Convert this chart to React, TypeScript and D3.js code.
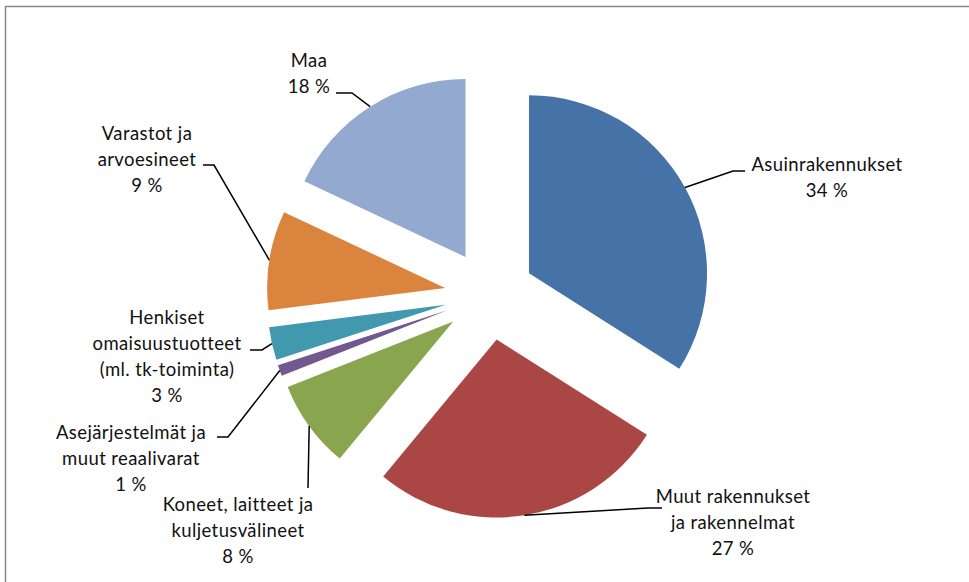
import React from "react";
import * as d3 from "d3";

const categories = [
  "Asuinrakennukset",
  "Muut rakennukset ja rakennelmat",
  "Koneet, laitteet ja kuljetusvälineet",
  "Asejärjestelmät ja muut reaalivarat",
  "Henkiset omaisuustuotteet (ml. tk-toiminta)",
  "Varastot ja arvoesineet",
  "Maa",
];
const values = [34, 27, 8, 1, 3, 9, 18];
const labelLines = [
  ["Asuinrakennukset", "34 %"],
  ["Muut rakennukset", "ja rakennelmat", "27 %"],
  ["Koneet, laitteet ja", "kuljetusvälineet", "8 %"],
  ["Asejärjestelmät ja", "muut reaalivarat", "1 %"],
  ["Henkiset", "omaisuustuotteet", "(ml. tk-toiminta)", "3 %"],
  ["Varastot ja", "arvoesineet", "9 %"],
  ["Maa", "18 %"],
];

const colors = ["#4572A7", "#AA4643", "#89A54E", "#71588F", "#4198AF", "#DB843D", "#93A9CF"];

// label layout (positions kept separate from data)
const labelLayout = [
  { cx: 827, y0: 164, leader: [[745, 171], [733, 171]] },
  { cx: 733, y0: 496, leader: [[662, 508], [648, 508]] },
  { cx: 238, y0: 504, leader: [[308, 488]] },
  { cx: 131, y0: 432, leader: [[217, 437], [228, 437]] },
  { cx: 167, y0: 317, leader: [[250, 350], [262, 350]] },
  { cx: 147, y0: 133, leader: [[203, 165], [214, 165]] },
  { cx: 309, y0: 60, leader: [[336, 93], [352, 93]] },
];

const W = 969;
const H = 582;
const CX = 489.6;
const CY = 295;
const R = 178;
const EXPLODE = 45;
const LINE_H = 26;

export default function App() {
  const pie = d3.pie<number>().sort(null).value((d) => d)(values);
  const arc = d3.arc<d3.PieArcDatum<number>>().innerRadius(0).outerRadius(R);

  return (
    <svg
      width={W}
      height={H}
      style={{ position: "absolute", left: 0, top: 0, display: "block", background: "#fff" }}
      fontFamily="Lato, 'Open Sans', sans-serif"
    >
      <rect x={5.5} y={6.5} width={1000} height={700} fill="#fff" stroke="#8a8a8a" strokeWidth={1.5} />
      {pie.map((d, i) => {
        const mid = (d.startAngle + d.endAngle) / 2;
        const ox = CX + EXPLODE * Math.sin(mid);
        const oy = CY - EXPLODE * Math.cos(mid);
        return (
          <path key={categories[i]} d={arc(d) || ""} transform={`translate(${ox},${oy})`} fill={colors[i]} />
        );
      })}
      {pie.map((d, i) => {
        const mid = (d.startAngle + d.endAngle) / 2;
        const ox = CX + EXPLODE * Math.sin(mid);
        const oy = CY - EXPLODE * Math.cos(mid);
        const ax = ox + R * Math.sin(mid);
        const ay = oy - R * Math.cos(mid);
        const lay = labelLayout[i];
        const pts: [number, number][] = [...(lay.leader as [number, number][]), [ax, ay]];
        const line = d3.line()(pts) || "";
        return <path key={"l" + i} d={line} fill="none" stroke="#000" strokeWidth={1.5} />;
      })}
      {labelLines.map((lines, i) => {
        const lay = labelLayout[i];
        return (
          <text key={"t" + i} textAnchor="middle" fontSize={18.5} letterSpacing={0.4} fill="#111">
            {lines.map((s, j) => (
              <tspan key={j} x={lay.cx} y={lay.y0 + j * LINE_H + 6.5}>
                {s}
              </tspan>
            ))}
          </text>
        );
      })}
    </svg>
  );
}
